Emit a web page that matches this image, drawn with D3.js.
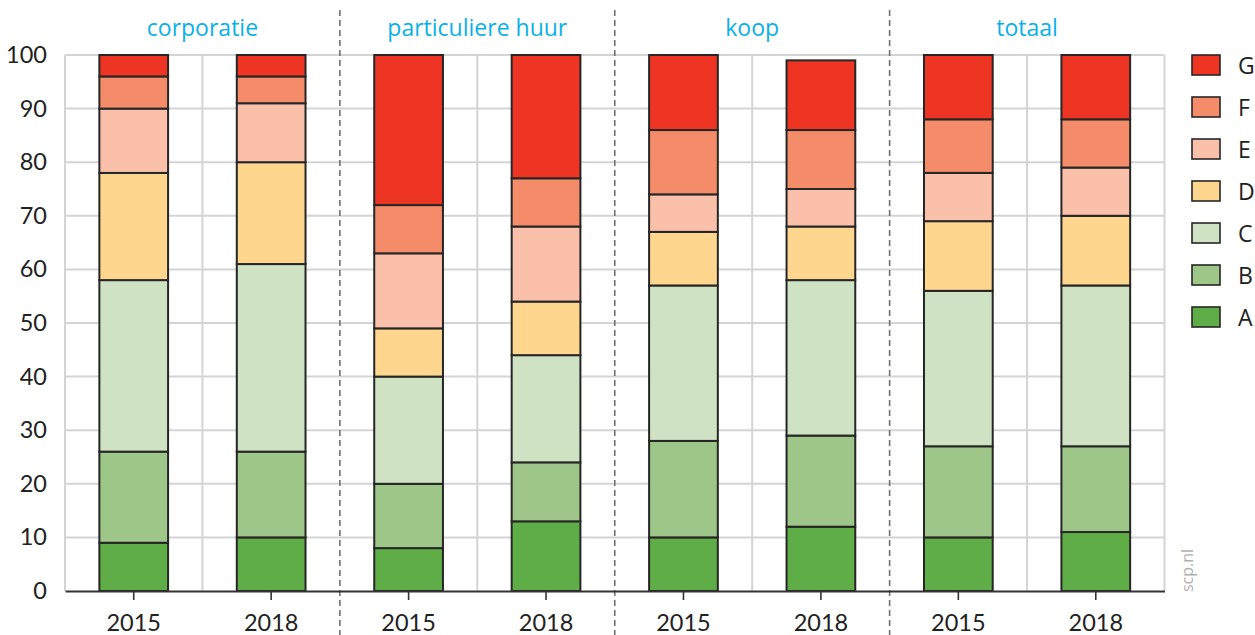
<!DOCTYPE html>
<html>
<head>
<meta charset="utf-8">
<script src="https://cdn.jsdelivr.net/npm/d3@7"></script>
<style>
  html, body { margin: 0; padding: 0; background: #fff; }
  svg { display: block; font-family: "Open Sans", "Noto Sans", sans-serif; }
</style>
</head>
<body>
<svg id="chart" width="1255" height="635"></svg>
<script>
// Energy label distribution per housing sector, 2015 vs 2018 (percent)
const groups = ["corporatie", "particuliere huur", "koop", "totaal"];
const years = ["2015", "2018"];
const labels = ["A", "B", "C", "D", "E", "F", "G"];
const colors = ["#5fad46", "#9ec688", "#cfe2c3", "#fed68e", "#fbc0aa", "#f48b69", "#ee3524"];
const yTicks = [0, 10, 20, 30, 40, 50, 60, 70, 80, 90, 100];

// shares per label A..G for each group/year column
const corporatie2015 = [9, 17, 32, 20, 12, 6, 4];
const corporatie2018 = [10, 16, 35, 19, 11, 5, 4];
const particulier2015 = [8, 12, 20, 9, 14, 9, 28];
const particulier2018 = [13, 11, 20, 10, 14, 9, 23];
const koop2015 = [10, 18, 29, 10, 7, 12, 14];
const koop2018 = [12, 17, 29, 10, 7, 11, 13];
const totaal2015 = [10, 17, 29, 13, 9, 10, 12];
const totaal2018 = [11, 16, 30, 13, 9, 9, 12];

const columns = [
  { group: groups[0], year: years[0], values: corporatie2015 },
  { group: groups[0], year: years[1], values: corporatie2018 },
  { group: groups[1], year: years[0], values: particulier2015 },
  { group: groups[1], year: years[1], values: particulier2018 },
  { group: groups[2], year: years[0], values: koop2015 },
  { group: groups[2], year: years[1], values: koop2018 },
  { group: groups[3], year: years[0], values: totaal2015 },
  { group: groups[3], year: years[1], values: totaal2018 }
];
columns.forEach((c, i) => { c.key = "c" + i; });

const svg = d3.select("#chart");
const plotLeft = 65, plotRight = 1164.5, plotTop = 55, plotBottom = 591;

const x = d3.scaleBand().domain(columns.map(c => c.key)).range([plotLeft, plotRight]).paddingInner(0).paddingOuter(0);
const y = d3.scaleLinear().domain([0, 100]).range([plotBottom, plotTop]);
const barW = x.bandwidth() * 0.5;

// horizontal grid
svg.append("g").selectAll("line").data(yTicks.filter(t => t > 0)).join("line")
  .attr("x1", plotLeft).attr("x2", plotRight)
  .attr("y1", d => y(d)).attr("y2", d => y(d))
  .attr("stroke", "#d4d4d4").attr("stroke-width", 2);

// vertical grid at column boundaries (solid within groups)
const bounds = columns.map(c => x(c.key)).concat([plotRight]);
const solidBounds = bounds.filter((b, i) => i % 2 === 1 || i === 0 || i === bounds.length - 1);
svg.append("g").selectAll("line").data(solidBounds).join("line")
  .attr("x1", d => d).attr("x2", d => d)
  .attr("y1", plotTop).attr("y2", plotBottom)
  .attr("stroke", "#d4d4d4").attr("stroke-width", 2);

// stacked bars
const stack = d3.stack().keys(d3.range(labels.length)).value((c, k) => c.values[k]);
const series = stack(columns);
svg.append("g").selectAll("g").data(series).join("g")
  .attr("fill", (d, i) => colors[i])
  .selectAll("rect").data(d => d).join("rect")
  .attr("x", d => x(d.data.key) + (x.bandwidth() - barW) / 2)
  .attr("width", barW)
  .attr("y", d => y(d[1]))
  .attr("height", d => y(d[0]) - y(d[1]))
  .attr("stroke", "#262626").attr("stroke-width", 2);

// group separators (dashed)
const sepX = [2, 4, 6].map(i => x(columns[i].key));
svg.append("g").selectAll("line").data(sepX).join("line")
  .attr("x1", d => d).attr("x2", d => d)
  .attr("y1", 10).attr("y2", 635)
  .attr("stroke", "#707070").attr("stroke-width", 1.6)
  .attr("stroke-dasharray", "6,4");

// x axis
const xAxis = svg.append("g").attr("transform", `translate(0,${plotBottom})`)
  .call(d3.axisBottom(x).tickSize(9).tickSizeOuter(0).tickFormat(k => columns.find(c => c.key === k).year));
xAxis.select(".domain").attr("stroke", "#333").attr("stroke-width", 2);
xAxis.selectAll(".tick line").attr("stroke", "#333").attr("stroke-width", 1.6);
xAxis.selectAll(".tick text").attr("fill", "#222").attr("font-size", 23.5)
  .attr("font-family", "Lato, Open Sans, sans-serif").attr("dy", "1.2em");

// y axis labels
const yAxis = svg.append("g").attr("transform", `translate(${plotLeft},0)`)
  .call(d3.axisLeft(y).tickValues(yTicks).tickSize(0).tickPadding(18));
yAxis.select(".domain").remove();
yAxis.selectAll(".tick text").attr("fill", "#222").attr("font-size", 23.5)
  .attr("font-family", "Lato, Open Sans, sans-serif");

// group titles
svg.append("g").selectAll("text").data(groups).join("text")
  .attr("x", (g, i) => (x(columns[i * 2].key) + x(columns[i * 2 + 1].key) + x.bandwidth()) / 2)
  .attr("y", 36)
  .attr("text-anchor", "middle")
  .attr("fill", "#0cb0e8").attr("font-size", 23)
  .text(d => d);

// legend, G on top
const legend = svg.append("g").selectAll("g").data(labels.slice().reverse()).join("g")
  .attr("transform", (d, i) => `translate(1192,${55 + i * 42})`);
legend.append("rect").attr("width", 28).attr("height", 20)
  .attr("fill", d => colors[labels.indexOf(d)])
  .attr("stroke", "#262626").attr("stroke-width", 1.6);
legend.append("text").attr("x", 46).attr("y", 19)
  .attr("fill", "#222").attr("font-size", 23).text(d => d);

// source mark
svg.append("text")
  .attr("transform", "translate(1193,592) rotate(-90)")
  .attr("fill", "#b0b0b0").attr("font-size", 16)
  .text("scp.nl");
</script>
</body>
</html>
